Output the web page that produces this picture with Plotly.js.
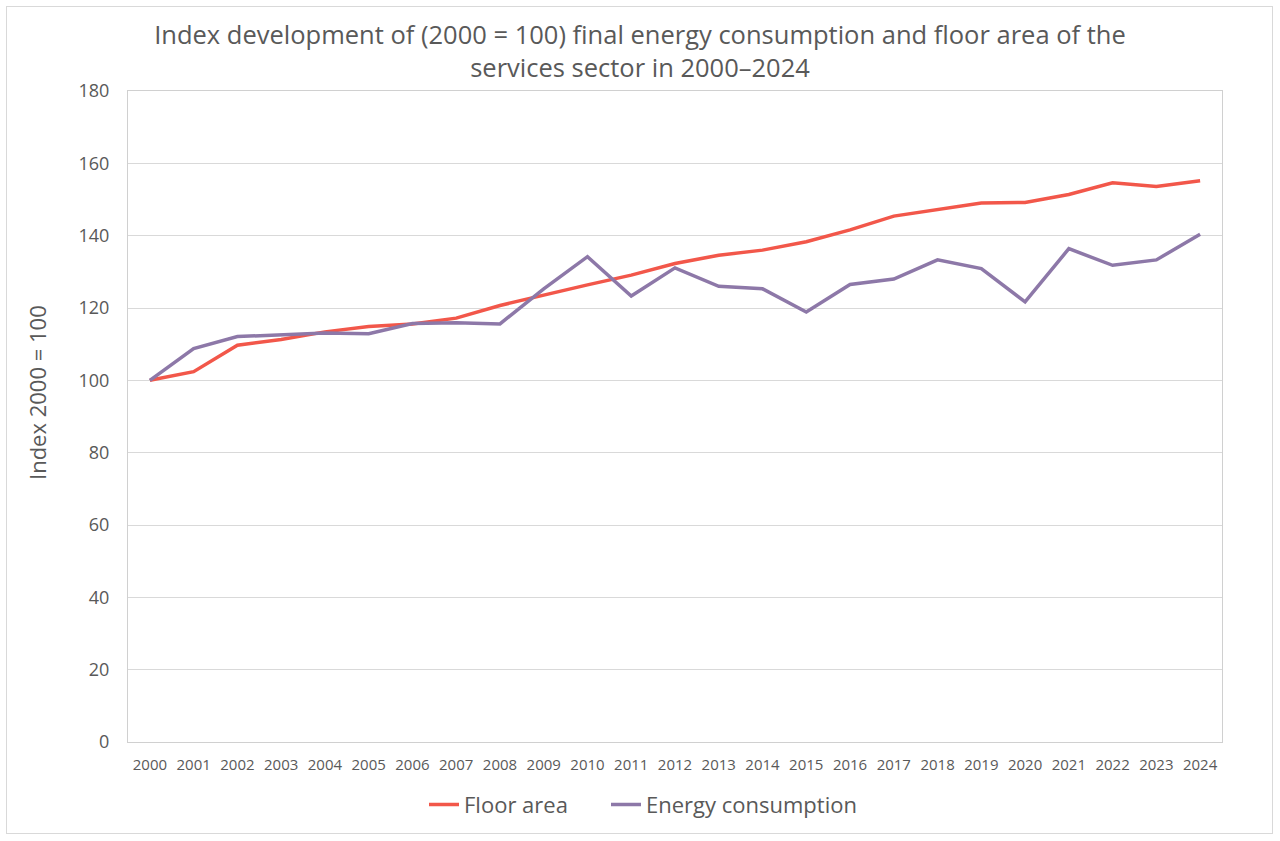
<!DOCTYPE html>
<html>
<head>
<meta charset="utf-8">
<script src="https://cdn.plot.ly/plotly-3.0.1.min.js"></script>
<style>
html,body{margin:0;padding:0;background:#fff;}
#wrap{position:relative;width:1280px;height:841px;}
#chart{width:1280px;height:841px;}
#frame{position:absolute;left:6px;top:6px;width:1265px;height:826px;border:1px solid #d9d9d9;pointer-events:none;}
</style>
</head>
<body>
<div id="wrap"><div id="chart"></div><div id="frame"></div></div>
<script>
const years = ['2000','2001','2002','2003','2004','2005','2006','2007','2008','2009','2010','2011','2012','2013','2014','2015','2016','2017','2018','2019','2020','2021','2022','2023','2024'];
const floorArea = [100,102.4,109.7,111.3,113.4,114.9,115.6,117.2,120.7,123.6,126.4,129.1,132.3,134.6,136.0,138.3,141.6,145.4,147.3,149.0,149.2,151.4,154.6,153.6,155.2];
const energyConsumption = [100,108.8,112.1,112.5,113.1,112.9,115.7,115.9,115.6,125.3,134.2,123.3,131.1,126.0,125.3,118.9,126.5,128.0,133.3,130.9,121.7,136.4,131.8,133.3,140.4];
const yTicks = [0,20,40,60,80,100,120,140,160,180];

const fontFam = '"Open Sans", "Noto Sans", sans-serif';
const txt = '#595959';

const traces = [
  {x: years, y: floorArea, name: 'Floor area', type: 'scatter', mode: 'lines',
   line: {color: '#F2574A', width: 3.5}, legend: 'legend'},
  {x: years, y: energyConsumption, name: 'Energy consumption', type: 'scatter', mode: 'lines',
   line: {color: '#8D78A8', width: 3.5}, legend: 'legend2'}
];

const legendBase = {orientation: 'h', xanchor: 'left', y: -0.064, yanchor: 'top',
                    font: {size: 22, color: txt}, itemwidth: 30, bgcolor: 'rgba(0,0,0,0)'};

const layout = {
  width: 1280, height: 841,
  margin: {l: 128, r: 58, t: 91, b: 99},
  paper_bgcolor: '#fff', plot_bgcolor: '#fff',
  font: {family: fontFam, color: txt},
  title: {text: 'Index development of (2000 = 100) final energy consumption and floor area of the<br>services sector in 2000–2024',
          font: {size: 25.5, color: txt, family: fontFam}, x: 0.5, xanchor: 'center', y: 0.948, yanchor: 'top'},
  xaxis: {type: 'category', tickvals: years, ticktext: years, tickfont: {size: 15, color: txt},
          showgrid: false, showline: true, mirror: true, linecolor: '#d0d0d0', linewidth: 1,
          ticks: '', ticklabelstandoff: 9, range: [-0.5, 24.5], fixedrange: true},
  yaxis: {range: [0, 180], tickvals: yTicks, ticktext: yTicks.map(String),
          tickfont: {size: 18, color: txt}, showgrid: true, gridcolor: '#d9d9d9', gridwidth: 1,
          showline: true, mirror: true, linecolor: '#d0d0d0', linewidth: 1, zeroline: false,
          ticks: '', ticklabelstandoff: 14},
  annotations: [{text: 'Index 2000 = 100', textangle: -90, xref: 'paper', yref: 'paper',
                 x: (37 - 128) / 1094, y: (742 - 393) / 651, xanchor: 'center', yanchor: 'middle',
                 showarrow: false, font: {size: 22, color: txt, family: fontFam}}],
  legend: Object.assign({}, legendBase, {x: (424 - 128) / 1094}),
  legend2: Object.assign({}, legendBase, {x: (606 - 128) / 1094}),
  showlegend: true
};

Plotly.newPlot('chart', traces, layout, {displayModeBar: false, staticPlot: true});
</script>
</body>
</html>
